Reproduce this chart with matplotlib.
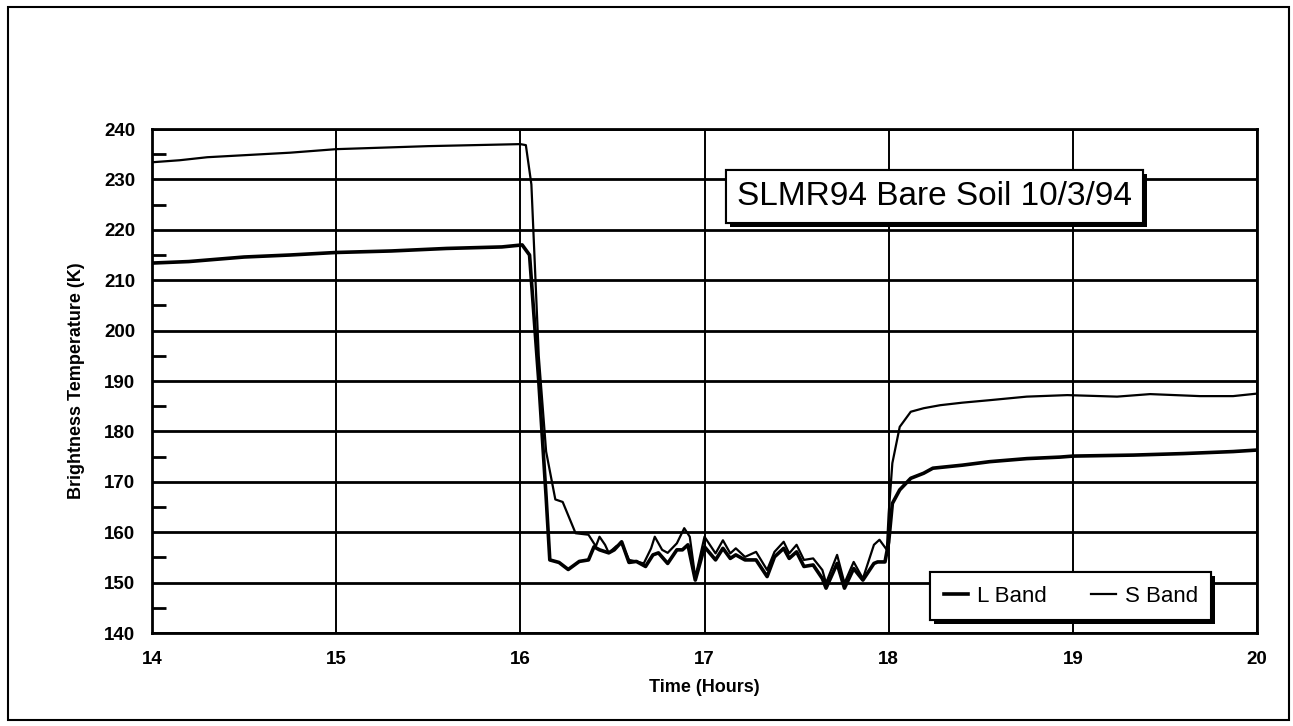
import matplotlib
matplotlib.use("Agg")
import matplotlib.pyplot as plt
import matplotlib.patheffects as pe
from matplotlib.patches import Rectangle

# ---- data ----
s_time = [14.00, 14.15, 14.30, 14.50, 14.75, 15.00, 15.25, 15.50, 15.75, 16.00, 16.03, 16.06,
          16.10, 16.14, 16.19, 16.23, 16.30, 16.37, 16.41, 16.43, 16.46, 16.48, 16.52, 16.55,
          16.59, 16.63, 16.67, 16.71, 16.73, 16.77, 16.80, 16.85, 16.89, 16.92, 16.95, 17.00,
          17.06, 17.10, 17.14, 17.17, 17.22, 17.28, 17.34, 17.38, 17.43, 17.46, 17.50, 17.54,
          17.59, 17.64, 17.66, 17.72, 17.76, 17.81, 17.86, 17.92, 17.95, 17.99, 18.00, 18.02,
          18.06, 18.12, 18.19, 18.28, 18.40, 18.55, 18.75, 18.97, 19.24, 19.42, 19.69, 19.87, 20.00]
s_temp = [233.4, 233.8, 234.4, 234.8, 235.3, 236.0, 236.3, 236.6, 236.8, 237.0, 236.8, 229.0,
          195.0, 176.0, 166.5, 166.0, 159.8, 159.5, 157.2, 159.1, 157.5, 155.9, 157.2, 157.8,
          154.5, 154.2, 153.8, 156.8, 159.1, 156.5, 155.9, 157.8, 160.8, 159.1, 151.0, 159.1,
          155.8, 158.4, 155.8, 156.8, 155.1, 156.1, 152.5, 156.1, 158.1, 155.8, 157.5, 154.5,
          154.8, 152.5, 149.9, 155.5, 149.9, 154.1, 150.8, 157.5, 158.5, 156.5, 163.7, 173.7,
          180.9, 183.9, 184.6, 185.2, 185.7, 186.2, 186.9, 187.2, 186.9, 187.4, 187.0, 187.0, 187.5]

l_time = [14.00, 14.20, 14.50, 14.75, 15.00, 15.30, 15.60, 15.90, 16.01, 16.05, 16.10, 16.14,
          16.16, 16.21, 16.26, 16.32, 16.37, 16.40, 16.43, 16.48, 16.51, 16.55, 16.59, 16.63,
          16.68, 16.72, 16.75, 16.80, 16.85, 16.88, 16.91, 16.95, 17.00, 17.06, 17.10, 17.14,
          17.17, 17.22, 17.28, 17.34, 17.38, 17.43, 17.46, 17.50, 17.54, 17.59, 17.64, 17.66,
          17.72, 17.76, 17.81, 17.86, 17.92, 17.94, 17.98, 18.00, 18.02, 18.06, 18.12, 18.19,
          18.24, 18.40, 18.55, 18.75, 18.93, 19.00, 19.33, 19.60, 19.87, 20.00]
l_temp = [213.4, 213.7, 214.6, 215.0, 215.5, 215.8, 216.3, 216.6, 217.0, 215.0, 190.0, 167.0,
          154.5, 154.0, 152.6, 154.2, 154.5, 157.1, 156.5, 155.9, 156.5, 158.1, 154.0, 154.2,
          153.2, 155.5, 155.9, 153.8, 156.5, 156.5, 157.5, 150.5, 157.1, 154.5, 156.8, 154.8,
          155.5, 154.5, 154.5, 151.2, 155.1, 156.8, 154.8, 156.1, 153.2, 153.5, 150.8, 148.9,
          153.8, 148.9, 152.8, 150.5, 153.8, 154.1, 154.1, 158.0, 165.7, 168.4, 170.7, 171.7,
          172.7, 173.3, 174.0, 174.6, 174.9, 175.1, 175.3, 175.6, 176.0, 176.3]

x_ticks = [14, 15, 16, 17, 18, 19, 20]
y_ticks = [140, 150, 160, 170, 180, 190, 200, 210, 220, 230, 240]
y_minor = [145, 155, 165, 175, 185, 195, 205, 215, 225, 235]
title_text = "SLMR94 Bare Soil 10/3/94"
series_names = ["L Band", "S Band"]

plt.rcParams['font.family'] = ['Liberation Sans', 'DejaVu Sans']

fig = plt.figure(figsize=(12.93, 7.26), dpi=100)
fig.patch.set_facecolor('white')

# outer border
fig.add_artist(Rectangle((0.006, 0.008), 0.991, 0.982, transform=fig.transFigure,
                         fill=False, edgecolor='black', linewidth=1.5))

ax = fig.add_axes([152 / 1293, (726 - 633) / 726, 1105 / 1293, 504 / 726])

ax.plot(l_time, l_temp, color='black', linewidth=2.6, label=series_names[0], zorder=3)
ax.plot(s_time, s_temp, color='black', linewidth=1.6, label=series_names[1], zorder=3)

ax.set_xlim(14, 20)
ax.set_ylim(140, 240)
ax.set_xticks(x_ticks)
ax.set_yticks(y_ticks)
ax.set_yticks(y_minor, minor=True)

for y in y_ticks:
    ax.axhline(y, color='black', linewidth=2.0, zorder=1)
for x in x_ticks:
    ax.axvline(x, color='black', linewidth=1.4, zorder=1)

for sp in ax.spines.values():
    sp.set_linewidth(2.0)

ax.tick_params(axis='x', length=0, pad=13, labelsize=13.5)
ax.tick_params(axis='y', which='major', length=0, pad=12, labelsize=13.5)
ax.tick_params(axis='y', which='minor', direction='in', length=10, width=2.0)
for lab in ax.get_xticklabels() + ax.get_yticklabels():
    lab.set_fontweight('bold')

ax.set_xlabel("Time (Hours)", fontsize=13, fontweight='bold', labelpad=8)
ax.set_ylabel("Brightness Temperature (K)", fontsize=13, fontweight='bold', labelpad=14)

shadow = [pe.withSimplePatchShadow(offset=(3, -3), shadow_rgbFace='black', alpha=1.0), pe.Normal()]

t = ax.text(18.25, 226.6, title_text, fontsize=24, ha='center', va='center', zorder=5,
            bbox=dict(boxstyle='square,pad=0.33', facecolor='white', edgecolor='black', linewidth=1.5))
t.get_bbox_patch().set_path_effects(shadow)

leg = ax.legend(loc='lower right', bbox_to_anchor=(19.75, 142.6), bbox_transform=ax.transData,
                ncol=2, fontsize=16, frameon=True, fancybox=False, handlelength=1.1,
                handletextpad=0.4, columnspacing=2.0, borderpad=0.6, borderaxespad=0)
leg.get_frame().set_edgecolor('black')
leg.get_frame().set_linewidth(1.5)
leg.get_frame().set_alpha(1.0)
leg.get_frame().set_path_effects(shadow)
leg.set_zorder(6)

fig.savefig("out.png", dpi=100, facecolor='white')
